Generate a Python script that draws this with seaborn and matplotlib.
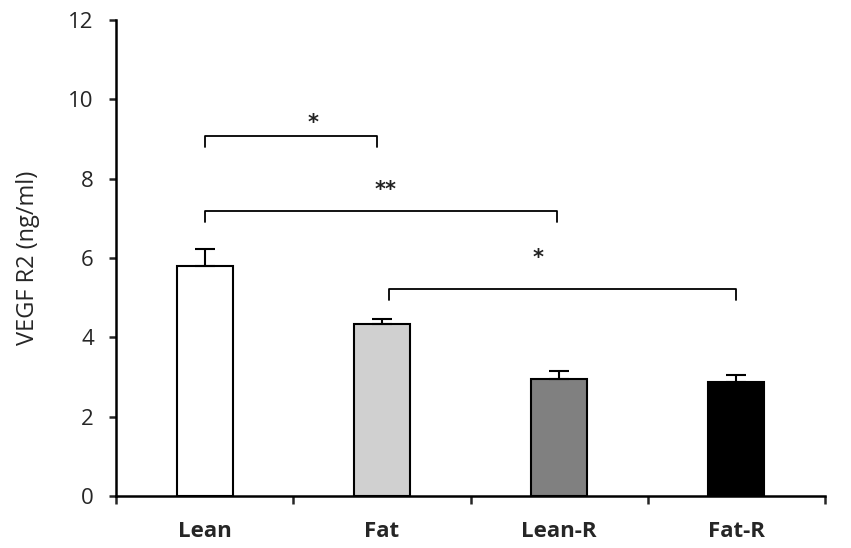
import numpy as np
import pandas as pd
import matplotlib
matplotlib.use("Agg")
import matplotlib.pyplot as plt
import seaborn as sns

# values
groups = ["Lean", "Fat", "Lean-R", "Fat-R"]
means = [5.80, 4.34, 2.95, 2.87]
errors = [0.43, 0.12, 0.20, 0.18]
bar_colors = ["#ffffff", "#d0d0d0", "#808080", "#000000"]

# significance brackets: (start group, end group, bracket height, label, label x, label y)
brackets = [
    (0, 0.97, 9.07, "*", 0.61, 9.40),
    (0, 1.99, 7.18, "**", 1.02, 7.72),
    (1.04, 3.0, 5.22, "*", 1.88, 6.00),
]

sns.set_style("white")
plt.rcParams["font.family"] = ["Open Sans", "DejaVu Sans"]

df = pd.DataFrame({"group": groups, "value": means})

fig = plt.figure(figsize=(8.51, 5.48), dpi=100)
ax = fig.add_axes([116 / 851, 1 - 496 / 548, (825 - 116) / 851, (496 - 20) / 548])

sns.barplot(data=df, x="group", y="value", hue="group", palette=bar_colors,
            edgecolor="black", linewidth=1.5, width=0.315, errorbar=None,
            legend=False, ax=ax)

# upper-only error bars
x = np.arange(len(groups))
ax.errorbar(x, means, yerr=[np.zeros(len(errors)), errors], fmt="none",
            ecolor="black", elinewidth=1.5, capsize=7, capthick=1.5)

for x0, x1, h, label, lx, ly in brackets:
    ax.plot([x0, x0, x1, x1], [h - 0.27, h, h, h - 0.27], color="black", lw=1.3)
    ax.text(lx, ly, label, ha="center", va="center", fontsize=15,
            fontfamily="DejaVu Sans", fontweight="bold", color="#222222")

ax.set_ylim(0, 12)
ax.set_yticks(range(0, 13, 2))
ax.set_xlim(-0.5, 3.5)
ax.set_xlabel("")
ax.set_ylabel("VEGF R2 (ng/ml)", fontsize=17, labelpad=20)

# Excel-like category axis: ticks between the groups
ax.set_xticks(x)
ax.set_xticklabels(groups, fontsize=16, fontweight="bold")
ax.tick_params(axis="x", which="major", length=0, pad=18)
ax.set_xticks(np.arange(-0.5, 4.0, 1.0), minor=True)
ax.tick_params(axis="x", which="minor", length=6, width=1.8, direction="out", bottom=True)
ax.tick_params(axis="y", length=5, width=1.8, direction="out", left=True, labelsize=16, pad=11)

for side in ["top", "right"]:
    ax.spines[side].set_visible(False)
for side in ["left", "bottom"]:
    ax.spines[side].set_linewidth(1.8)
    ax.spines[side].set_color("black")

fig.savefig("out.png", dpi=100)
